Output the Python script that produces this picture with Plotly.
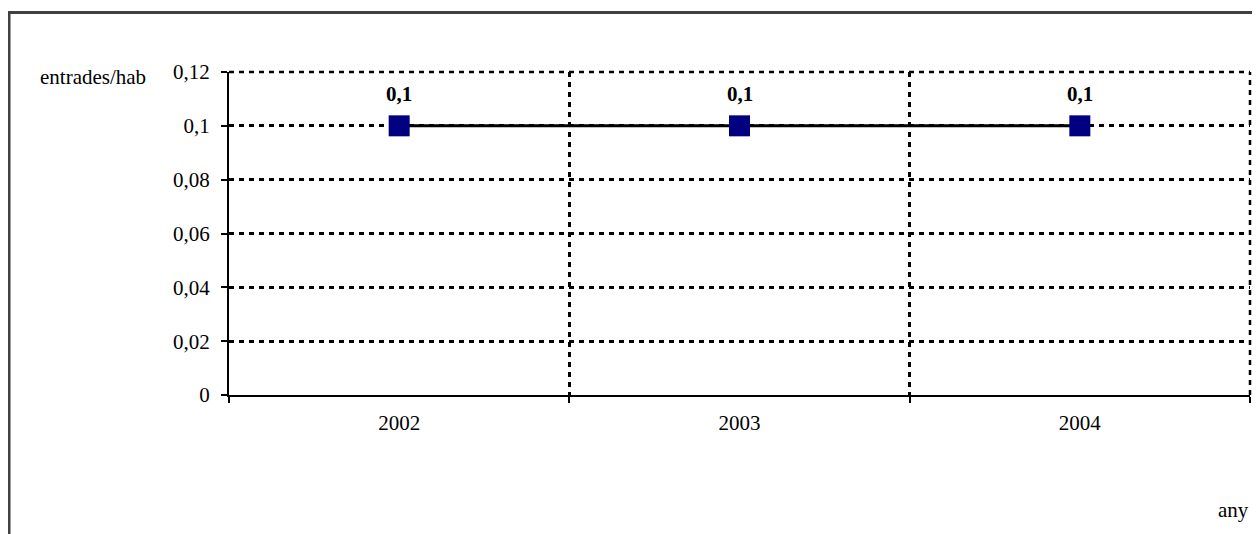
import plotly.graph_objects as go

years = ["2002", "2003", "2004"]
values = [0.1, 0.1, 0.1]
y_ticks = [0, 0.02, 0.04, 0.06, 0.08, 0.1, 0.12]
y_title = "entrades/hab"
x_title = "any"

labels = [f"<b>{v:g}</b>".replace(".", ",") for v in values]
tick_text = [f"{v:g}".replace(".", ",") for v in y_ticks]

OFF = 8  # page body margin
W, H = 1252, 526
L, R, T, B = 229 - OFF, 10, 72 - OFF, 534 - 395
ph = H - T - B
pw = W - L - R

def py(ypix):
    return (H - B - (ypix - OFF)) / ph

def px(xpix):
    return ((xpix - OFF) - L) / pw

FONT = "Liberation Serif"
FS = 21
DASH = "5px,5px"

fig = go.Figure()
fig.add_trace(go.Scatter(
    x=years, y=values,
    mode="lines+markers",
    line=dict(color="black", width=3),
    marker=dict(symbol="square", size=21, color="#000080", line=dict(width=0)),
    cliponaxis=False,
    showlegend=False,
))

annotations = [
    dict(x=i, y=v, xref="x", yref="y", text=lab, showarrow=False,
         yshift=32, xanchor="center", yanchor="middle",
         font=dict(family=FONT, size=FS, color="black"))
    for i, (v, lab) in enumerate(zip(values, labels))
]
annotations += [
    dict(text=y_title, xref="paper", yref="paper", x=px(38), y=py(77),
         xanchor="left", yanchor="middle", showarrow=False,
         font=dict(family=FONT, size=FS, color="black")),
    dict(text=x_title, xref="paper", yref="paper", x=px(1251), y=py(510),
         xanchor="right", yanchor="middle", showarrow=False,
         font=dict(family=FONT, size=FS, color="black")),
]

fig.update_layout(
    width=W, height=H,
    margin=dict(l=L, r=R, t=T, b=B),
    paper_bgcolor="white", plot_bgcolor="white",
    separators=",.",
    font=dict(family=FONT, size=FS, color="black"),
    xaxis=dict(
        type="category",
        range=[-0.5, 2.5],
        tickson="boundaries",
        ticks="outside", ticklen=6, tickwidth=1.5, tickcolor="black",
        showline=True, linecolor="black", linewidth=2,
        showgrid=True, gridcolor="black", gridwidth=2.5, griddash=DASH,
        tickfont=dict(family=FONT, size=FS, color="black"),
        ticklabelstandoff=8,
        zeroline=False,
    ),
    yaxis=dict(
        range=[0, 0.12],
        tickvals=y_ticks, ticktext=tick_text,
        ticks="outside", ticklen=6, tickwidth=1.5, tickcolor="black",
        showline=True, linecolor="black", linewidth=2,
        showgrid=True, gridcolor="black", gridwidth=2.5, griddash=DASH,
        tickfont=dict(family=FONT, size=FS, color="black"),
        ticklabelstandoff=7,
        zeroline=False,
    ),
    shapes=[
        dict(type="rect", xref="paper", yref="paper",
             x0=px(OFF + 1), x1=px(1280), y0=py(560), y1=py(12.5),
             line=dict(color="#404040", width=3), fillcolor="rgba(0,0,0,0)",
             layer="below"),
        dict(type="line", xref="paper", yref="paper", x0=0, x1=1, y0=1, y1=1,
             line=dict(color="black", width=2.5, dash=DASH), layer="below"),
        dict(type="line", xref="paper", yref="paper", x0=1, x1=1, y0=0, y1=1,
             line=dict(color="black", width=2.5, dash=DASH), layer="below"),
    ],
    annotations=annotations,
)

fig.write_html("out.html")
